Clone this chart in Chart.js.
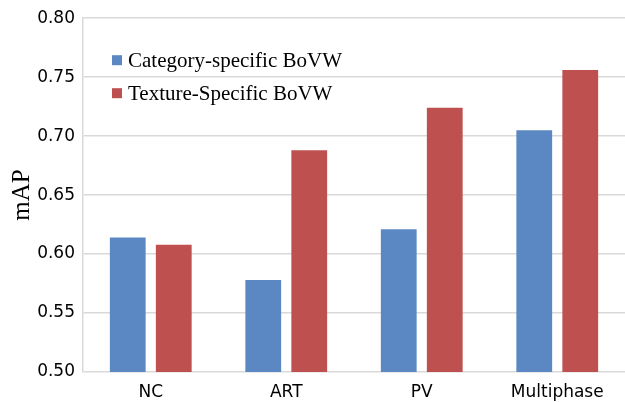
<!DOCTYPE html>
<html>
<head>
<meta charset="utf-8">
<script src="https://cdn.jsdelivr.net/npm/chart.js@4/dist/chart.umd.min.js"></script>
<style>
  html, body { margin: 0; padding: 0; background: #fff; }
  #wrap { width: 625px; height: 402px; }
</style>
</head>
<body>
<div id="wrap"><canvas id="c"></canvas></div>
<script>
const categories = ['NC', 'ART', 'PV', 'Multiphase'];
const categorySpecific = [0.614, 0.578, 0.621, 0.705];
const textureSpecific = [0.608, 0.688, 0.724, 0.756];
const seriesNames = ['Category-specific BoVW', 'Texture-Specific BoVW'];

const BLUE = '#5b88c3';
const RED = '#be5050';

// legend drawn inside the plot, top-left, no box
const innerLegend = {
  id: 'innerLegend',
  afterDraw(chart) {
    const { ctx, chartArea } = chart;
    ctx.save();
    ctx.font = '21px "Liberation Serif", "Times New Roman", serif';
    ctx.textBaseline = 'middle';
    chart.data.datasets.forEach((ds, i) => {
      const y = chartArea.top + 42 + i * 33;
      const x = chartArea.left + 29;
      ctx.fillStyle = ds.backgroundColor;
      ctx.fillRect(x, y - 5, 10, 10);
      ctx.fillStyle = '#000';
      ctx.fillText(ds.label, x + 16, y + 1);
    });
    ctx.restore();
  }
};

new Chart(document.getElementById('c'), {
  type: 'bar',
  data: {
    labels: categories,
    datasets: [
      { label: seriesNames[0], data: categorySpecific, backgroundColor: BLUE },
      { label: seriesNames[1], data: textureSpecific, backgroundColor: RED },
    ],
  },
  options: {
    responsive: true, maintainAspectRatio: false,
    animation: false,
    categoryPercentage: 0.679,
    barPercentage: 0.778,
    layout: { padding: { top: 18, right: -3, left: 0, bottom: 0 } },
    plugins: { legend: { display: false }, tooltip: { enabled: false } },
    scales: {
      x: {
        grid: { display: false, drawTicks: false },
        border: { display: false },
        ticks: { color: '#000', padding: 10, font: { family: 'DejaVu Sans', size: 17 } },
        afterFit: (s) => { s.height = 30; },
      },
      y: {
        min: 0.5, max: 0.8,
        grid: { color: '#d9d9d9', lineWidth: 1.5, drawTicks: false },
        border: { color: '#d9d9d9', width: 1.5 },
        ticks: {
          stepSize: 0.05, color: '#000', padding: 8,
          font: { family: 'DejaVu Sans', size: 17 },
          callback: (v) => v.toFixed(2),
        },
        title: {
          display: true, text: 'mAP', color: '#000',
          padding: { top: 7, bottom: 0 },
          font: { family: 'Liberation Serif', size: 25 },
        },
        afterFit: (s) => { s.width = 83; },
      },
    },
  },
  plugins: [innerLegend],
});
</script>
</body>
</html>
